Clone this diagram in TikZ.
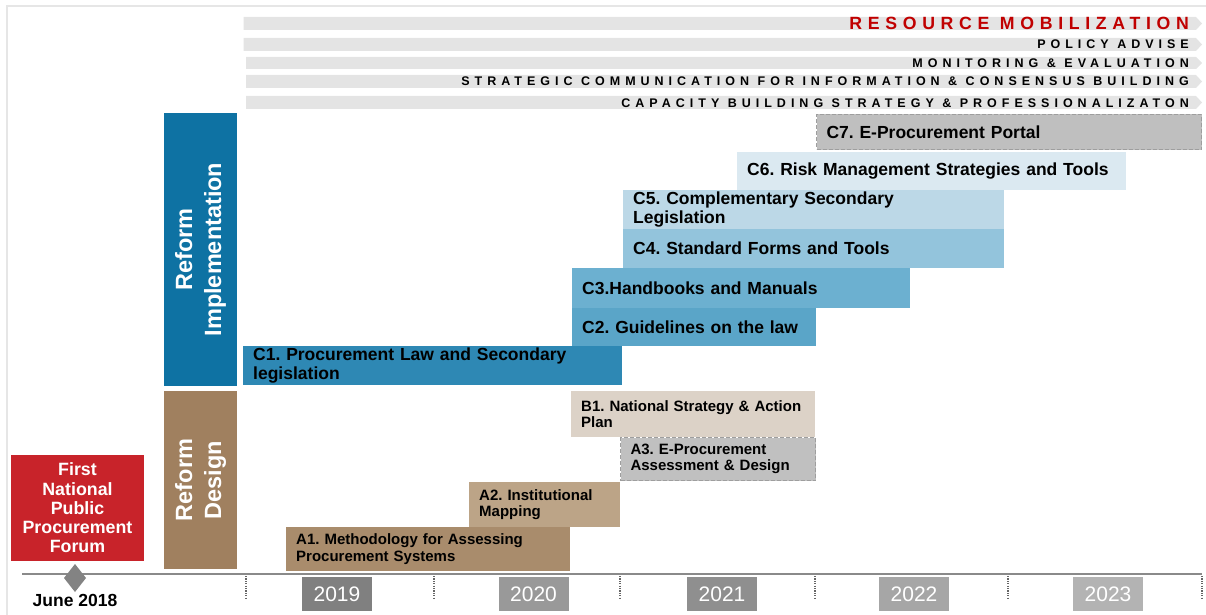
\documentclass[tikz,border=0pt]{standalone}
\usepackage{fontspec}
\setmainfont{Liberation Sans}
\newfontfamily\spacedA[LetterSpace=32]{Liberation Sans}
\newfontfamily\spacedB[LetterSpace=40]{Liberation Sans}
\frenchspacing
\usetikzlibrary{shapes.geometric}
\definecolor{framegray}{HTML}{E6E6E6}
\definecolor{topbargray}{HTML}{E4E4E4}
\definecolor{rmred}{HTML}{C00000}
\definecolor{forumred}{HTML}{C8232A}
\definecolor{implblue}{HTML}{0E72A3}
\definecolor{designbrown}{HTML}{A0805F}
\definecolor{cone}{HTML}{2E88B4}
\definecolor{ctwo}{HTML}{5AA5C8}
\definecolor{cthree}{HTML}{6CB0D0}
\definecolor{cfour}{HTML}{93C4DC}
\definecolor{cfive}{HTML}{BCD8E7}
\definecolor{csix}{HTML}{DBE9F1}
\definecolor{cseven}{HTML}{BFBFBF}
\definecolor{aone}{HTML}{A98C6C}
\definecolor{atwo}{HTML}{BCA487}
\definecolor{bone}{HTML}{DCD2C7}
\definecolor{athree}{HTML}{C0C0C0}
\definecolor{dashgray}{HTML}{9E9E9E}
\definecolor{axisgray}{HTML}{8A8A8A}
\definecolor{tickgray}{HTML}{666666}
\definecolor{yone}{HTML}{808080}
\definecolor{ytwo}{HTML}{999999}
\definecolor{ythree}{HTML}{8F8F8F}
\definecolor{yfour}{HTML}{A6A6A6}
\definecolor{yfive}{HTML}{B3B3B3}
\tikzset{
  topbar/.style={fill=topbargray},
  toplabel/.style={anchor=base east, inner sep=0pt, font=\spacedB\bfseries\fontsize{12.5}{14}\selectfont},
  barbox/.style={anchor=north west, inner xsep=10pt, inner ysep=0pt, align=left, text=black,
                 font=\bfseries\fontsize{17.5}{18.6}\selectfont},
  smallbar/.style={barbox, font=\bfseries\fontsize{15}{16.4}\selectfont},
  dashedbox/.style={draw=dashgray, line width=1pt, dash pattern=on 4pt off 2pt},
  phasebox/.style={minimum width=73pt, inner sep=0pt, text=white, align=center,
                   font=\bfseries\fontsize{23.5}{27}\selectfont},
  yearbox/.style={minimum width=70pt, minimum height=34pt, inner sep=0pt, text=white,
                  font=\fontsize{21}{24}\selectfont},
  yeartick/.style={draw=tickgray, line width=1.6pt, dash pattern=on 1.2pt off 1.2pt}
}
\begin{document}
\begin{tikzpicture}[x=1pt,y=-1pt]
\useasboundingbox (0,0) rectangle (1206,615);
% frame
\draw[framegray, line width=2pt] (7,615) -- (7,6) -- (1206,6);
% top bars
\fill[topbar] (243.5,17) -- (1196,17) -- (1202,23.5) -- (1196,30) -- (243.5,30) -- cycle;
\fill[topbar] (243.5,38) -- (1196,38) -- (1202,44.5) -- (1196,51) -- (243.5,51) -- cycle;
\fill[topbar] (246,57) -- (1196,57) -- (1202,63) -- (1196,69) -- (246,69) -- cycle;
\fill[topbar] (246,75) -- (1196,75) -- (1202,81.5) -- (1196,88) -- (246,88) -- cycle;
\fill[topbar] (246,96) -- (1196,96) -- (1202,102.5) -- (1196,109) -- (246,109) -- cycle;
\node[toplabel, text=rmred, font=\spacedA\bfseries\fontsize{17.7}{20}\selectfont] (rm) at (1189,29.8) {RESOURCE MOBILIZATION};
\node[toplabel] (pa) at (1189,49) {POLICY ADVISE};
\node[toplabel] (me) at (1189,67.5) {MONITORING \& EVALUATION};
\node[toplabel] (sc) at (1189,86) {STRATEGIC COMMUNICATION FOR INFORMATION \& CONSENSUS BUILDING};
\node[toplabel] (cb) at (1189,107) {CAPACITY BUILDING STRATEGY \& PROFESSIONALIZATON};
% phase boxes
\node[phasebox, fill=implblue, minimum height=273pt] (impl) at (200.5,249.5) {};
\node[rotate=90, text=white, align=center, font=\bfseries\fontsize{23.5}{29}\selectfont] (impltext) at (impl.center) {Reform\\Implementation};
\node[phasebox, fill=designbrown, minimum height=178pt] (design) at (200.5,480) {};
\node[rotate=90, text=white, align=center, font=\bfseries\fontsize{23.5}{29}\selectfont] (designtext) at (design.center) {Reform\\Design};
% forum box
\node[fill=forumred, minimum width=133pt, minimum height=106pt, inner sep=0pt, text=white, align=center,
      font=\bfseries\fontsize{17.8}{19.3}\selectfont] (forum) at (77.5,508) {First\\National\\Public\\Procurement\\Forum};
% implementation bars
\node[barbox, fill=cseven, dashedbox, minimum width=385pt, minimum height=35pt, text width=365pt] (c7) at (816,114) {C7. E-Procurement Portal};
\node[barbox, fill=csix, minimum width=389pt, minimum height=38pt, text width=369pt] (c6) at (737,152) {C6. Risk Management Strategies and Tools};
\node[barbox, fill=cfive, minimum width=381pt, minimum height=39pt, text width=361pt] (c5) at (623,190) {C5. Complementary Secondary\\Legislation};
\node[barbox, fill=cfour, minimum width=381pt, minimum height=39pt, text width=361pt] (c4) at (623,229) {C4. Standard Forms and Tools};
\node[barbox, fill=cthree, minimum width=338pt, minimum height=40pt, text width=318pt] (c3) at (572,268) {C3.Handbooks and Manuals};
\node[barbox, fill=ctwo, minimum width=244pt, minimum height=38pt, text width=224pt] (c2) at (572,308) {C2. Guidelines on the law};
\node[barbox, fill=cone, minimum width=379pt, minimum height=39pt, text width=359pt] (c1) at (243,346) {C1. Procurement Law and Secondary\\legislation};
% design bars
\node[smallbar, fill=bone, minimum width=244pt, minimum height=46pt, text width=224pt] (b1) at (571,391) {B1. National Strategy \& Action\\Plan};
\node[smallbar, fill=athree, dashedbox, minimum width=195pt, minimum height=43pt, text width=175pt] (a3) at (620,437) {A3. E-Procurement\\Assessment \& Design};
\node[smallbar, fill=atwo, minimum width=151pt, minimum height=45pt, text width=131pt] (a2) at (469,482) {A2. Institutional\\Mapping};
\node[smallbar, fill=aone, minimum width=284pt, minimum height=44pt, text width=264pt] (a1) at (286,527) {A1. Methodology for Assessing\\Procurement Systems};
% timeline
\draw[axisgray, line width=2pt] (22,574) -- (1202,574);
\foreach \tx in {246,434,620,815,1008,1202}{
  \draw[yeartick] (\tx,576) -- (\tx,599);
}
\fill[axisgray!95!black] (75,564) -- (86,578) -- (75,592) -- (64,578) -- cycle;
\node[anchor=base, inner sep=0pt, font=\bfseries\fontsize{17.5}{20}\selectfont] (june) at (75,606) {June 2018};
\node[yearbox, fill=yone] (y2019) at (337,594) {2019};
\node[yearbox, fill=ytwo] (y2020) at (533.5,594) {2020};
\node[yearbox, fill=ythree] (y2021) at (722,594) {2021};
\node[yearbox, fill=yfour] (y2022) at (914,594) {2022};
\node[yearbox, fill=yfive] (y2023) at (1108,594) {2023};
\end{tikzpicture}
\end{document}
